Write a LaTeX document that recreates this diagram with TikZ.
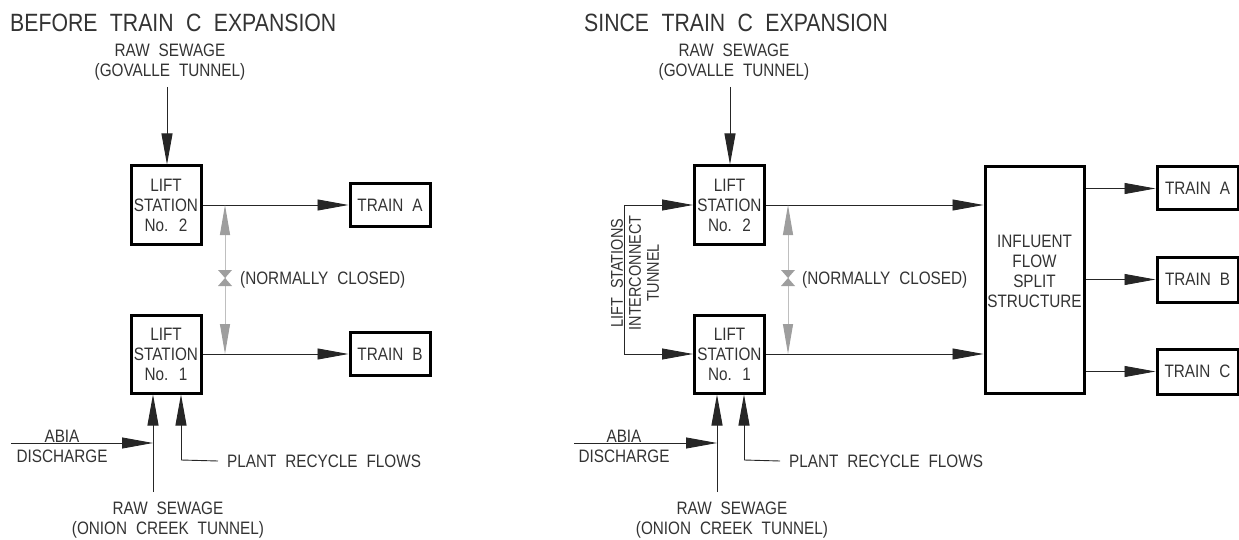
\documentclass[tikz,border=0pt]{standalone}
\usepackage{fontspec}
\setmainfont{Liberation Sans}[FakeStretch=0.85, WordSpace=2.1]
\usetikzlibrary{positioning, arrows.meta}

\begin{document}
\begin{tikzpicture}[x=1pt, y=-1pt,
    txt/.style={text=black!80, font=\fontsize{18}{20}\selectfont, align=center, inner sep=1pt},
    ttl/.style={text=black!80, font=\fontsize{25}{28}\selectfont, anchor=base west, inner sep=0pt},
    unit/.style={draw, line width=3pt, txt, minimum width=70pt, minimum height=78pt, inner sep=0pt},
    train/.style={draw, line width=3pt, txt, minimum width=80pt, minimum height=43pt, inner sep=0pt},
    flow/.style={draw=black!85, line width=0.9pt, -{Triangle[length=31pt, width=11pt]}},
    pipe/.style={draw=black!85, line width=0.9pt},
    bypass/.style={draw=black!25, line width=1pt,
                   {Triangle[length=30pt, width=10pt, color=black!38]}-{Triangle[length=30pt, width=10pt, color=black!38]}},
    valve/.style={fill=black!38, draw=none}]
    \useasboundingbox (0,0) rectangle (1239,540);

    % ---- before train C expansion
    \node[ttl] (title1) at (10,32) {BEFORE TRAIN C EXPANSION};
    \node[txt] (gov1) at (170,62) {RAW SEWAGE\\(GOVALLE TUNNEL)};
    \node[unit] (ls2a) at (166,205) {LIFT\\STATION\\No. 2};
    \node[unit] (ls1a) at (166,354) {LIFT\\STATION\\No. 1};
    \node[train] (tra) at (390,205) {TRAIN A};
    \node[train] (trb) at (390,354) {TRAIN B};
    \node[txt, anchor=west] (nc1) at (239,280) {(NORMALLY CLOSED)};
    \node[txt] (abia1) at (62,446) {ABIA\\DISCHARGE};
    \node[txt, anchor=west] (prf1) at (226,461) {PLANT RECYCLE FLOWS};
    \node[txt] (onion1) at (168,520) {RAW SEWAGE\\(ONION CREEK TUNNEL)};

    \coordinate (govin1) at (167,87);
    \coordinate (onin1) at (153,492);
    \coordinate (abin1) at (11,443);
    \coordinate (rc1) at (181,460);
    \coordinate (by1) at (225,205);
    \coordinate (v1) at (225,278);

    \draw[flow] (govin1) -- (govin1 |- ls2a.north);
    \draw[flow] (ls2a.east) -- (tra.west);
    \draw[flow] (ls1a.east) -- (trb.west);
    \draw[flow] (onin1) -- (onin1 |- ls1a.south);
    \draw[flow] (abin1) -- (abin1 -| onin1);
    \draw[pipe] ([xshift=-8pt]prf1.west) -- (rc1);
    \draw[flow] (rc1) -- (rc1 |- ls1a.south);
    \draw[bypass] (by1) -- (by1 |- ls1a.east);
    \fill[valve] ([shift={(-7,-8)}]v1) -- ([shift={(7,-8)}]v1) -- ([shift={(-7,8)}]v1) -- ([shift={(7,8)}]v1) -- cycle;

    % ---- since train C expansion
    \node[ttl] (title2) at (584,32) {SINCE TRAIN C EXPANSION};
    \node[txt] (gov2) at (734,62) {RAW SEWAGE\\(GOVALLE TUNNEL)};
    \node[unit] (ls2b) at (729.5,205) {LIFT\\STATION\\No. 2};
    \node[unit] (ls1b) at (729.5,354) {LIFT\\STATION\\No. 1};
    \node[draw, line width=3pt, minimum width=99pt, minimum height=226pt] (split) at (1034.5,280) {};
    \node[txt] (splittxt) at ([yshift=9pt]split.center) {INFLUENT\\FLOW\\SPLIT\\STRUCTURE};
    \node[train, minimum width=81pt] (tra2) at (1197.5,188.5) {TRAIN A};
    \node[train, minimum width=81pt, minimum height=45pt] (trb2) at (1197.5,279.5) {TRAIN B};
    \node[train, minimum width=81pt, minimum height=45pt] (trc2) at (1197.5,371.5) {TRAIN C};
    \node[txt, anchor=west] (nc2) at (801,280) {(NORMALLY CLOSED)};
    \node[txt, rotate=90, font=\fontsize{17}{18}\selectfont] (ictxt) at (635,273) {LIFT STATIONS\\INTERCONNECT\\TUNNEL};
    \node[txt] (abia2) at (624,446) {ABIA\\DISCHARGE};
    \node[txt, anchor=west] (prf2) at (788,461) {PLANT RECYCLE FLOWS};
    \node[txt] (onion2) at (732,520) {RAW SEWAGE\\(ONION CREEK TUNNEL)};

    \coordinate (govin2) at (730,87);
    \coordinate (onin2) at (717,492);
    \coordinate (abin2) at (574,443);
    \coordinate (rc2) at (744,460);
    \coordinate (ictop) at (624,205);
    \coordinate (icbot) at (624,354);
    \coordinate (by2) at (788,205);
    \coordinate (v2) at (788,278);

    \draw[flow] (govin2) -- (govin2 |- ls2b.north);
    \draw[pipe] (ictop) -- (icbot);
    \draw[flow] (ictop) -- (ls2b.west);
    \draw[flow] (icbot) -- (ls1b.west);
    \draw[flow] (ls2b.east) -- (ls2b.east -| split.west);
    \draw[flow] (ls1b.east) -- (ls1b.east -| split.west);
    \draw[flow] (split.east |- tra2.west) -- (tra2.west);
    \draw[flow] (split.east |- trb2.west) -- (trb2.west);
    \draw[flow] (split.east |- trc2.west) -- (trc2.west);
    \draw[flow] (onin2) -- (onin2 |- ls1b.south);
    \draw[flow] (abin2) -- (abin2 -| onin2);
    \draw[pipe] ([xshift=-8pt]prf2.west) -- (rc2);
    \draw[flow] (rc2) -- (rc2 |- ls1b.south);
    \draw[bypass] (by2) -- (by2 |- ls1b.east);
    \fill[valve] ([shift={(-7,-8)}]v2) -- ([shift={(7,-8)}]v2) -- ([shift={(-7,8)}]v2) -- ([shift={(7,8)}]v2) -- cycle;
\end{tikzpicture}
\end{document}
